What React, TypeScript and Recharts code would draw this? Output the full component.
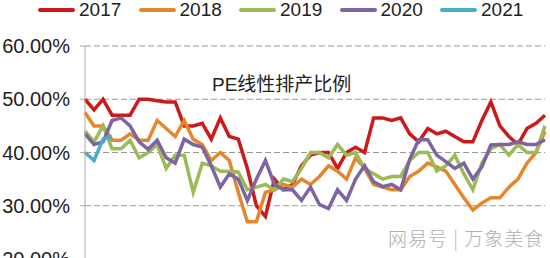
import { LineChart, Line, XAxis, YAxis, CartesianGrid } from "recharts";

const weeks = Array.from({ length: 52 }, (_, i) => i + 1);

const years = ["2017", "2018", "2019", "2020", "2021"];
const colors = ["#CC1A1A", "#E5862B", "#9BBB59", "#7E64A0", "#4BACC6"];

const s2017 = [
  50, 48, 50, 47, 47, 47, 50, 50, 49.7, 49.5, 49.5, 45, 45, 45.5, 42.5, 46.5, 43, 42.5, 37, 30,
  28, 35, 33, 34, 37.5, 39.5, 40, 40, 37, 40, 41, 40, 46.5, 46.5, 46, 46.5, 43.5, 42, 44.5, 43.5,
  44, 43, 42, 42, 46, 49.5, 45, 43, 41.5, 44.5, 45.5, 47,
];
const s2018 = [
  47.5, 45, 45, 42.3, 42.3, 43.5, 42.3, 42.3, 46, 44.5, 43, 46, 42.5, 41.5, 38.5, 40, 38.5, 32.5, 27, 27,
  32.5, 33, 34, 33.5, 35, 34, 35.5, 37.5, 36.5, 35, 39, 37, 34, 33.5, 33, 33, 35.5, 36.5, 38, 37.3,
  36.5, 34, 31.5, 29.2, 30.5, 31.5, 31.5, 33.5, 35, 38, 40, 44,
];
const s2019 = [
  44, 42, 45, 40.7, 40.7, 42.3, 39, 40, 41.5, 37, 39.5, 39.5, 32.5, 38, 37.5, 36.5, 36.5, 36.3, 33, 33.5,
  34, 33, 35, 34.5, 37, 40, 40, 39, 41.5, 39.5, 40, 37, 36, 35, 35.5, 35.5, 38.5, 40, 40, 36.5,
  37.5, 39.5, 36, 33, 38, 40.7, 41.5, 39.5, 41.5, 40, 40, 45,
];
const s2020 = [
  43.5, 41.5, 42, 46, 46.5, 45, 42, 40.6, 42.3, 39, 38, 42.5, 41.5, 41, 37.5, 33.5, 36, 35, 31, 35,
  38.5, 34, 33, 33, 31, 33.5, 30.2, 29.5, 33, 31, 35, 37.5, 34.5, 33.6, 34, 33, 38.7, 42.4, 42.4, 39.5,
  38.3, 37, 38, 35, 37.3, 41.4, 41.5, 41.5, 42, 41.5, 41.5, 42.4,
];
const s2021 = [40, 38.5, 42.5, 43];

const series = [s2017, s2018, s2019, s2020, s2021];

const yTicks = [20, 30, 40, 50, 60];

const data = weeks.map((w, i) => {
  const row: Record<string, number | null> = { week: w };
  years.forEach((y, k) => {
    row[y] = series[k][i] ?? null;
  });
  return row;
});

const font = "'Liberation Sans', Arial, 'Noto Sans CJK SC', sans-serif";

function YearLegend() {
  return (
    <div style={{ position: "absolute", left: 0, top: 0, width: 550, height: 22, fontFamily: font, fontSize: 19, color: "#222" }}>
      {years.map((y, k) => (
        <div
          key={y}
          style={{ position: "absolute", left: 38 + k * 100.5, top: 0, display: "flex", alignItems: "center", height: 20 }}
        >
          <span style={{ display: "inline-block", width: 37, height: 4, borderRadius: 2, background: colors[k], marginRight: 4 }} />
          <span>{y}</span>
        </div>
      ))}
    </div>
  );
}

export default function App() {
  return (
    <div style={{ position: "absolute", left: 0, top: 0, width: 550, height: 280, background: "#fff" }}>
      <LineChart width={550} height={280} data={data} margin={{ top: 46, right: 5, left: 0, bottom: 21 }}>
        <CartesianGrid vertical={false} stroke="#999" strokeDasharray="6 3" />
        <XAxis dataKey="week" hide padding={{ left: 0, right: 0 }} />
        <YAxis
          width={85}
          domain={[20, 60]}
          ticks={yTicks}
          tickFormatter={(v: number) => `${v.toFixed(2)}%`}
          stroke="#aaa"
          tickSize={5}
          tickMargin={10}
          tick={{ fill: "#222", fontSize: 20, fontFamily: font }}
        />
        {years.map((y, k) => (
          <Line
            key={y}
            dataKey={y}
            stroke={colors[k]}
            strokeWidth={3.5}
            dot={false}
            type="linear"
            isAnimationActive={false}
            connectNulls={false}
          />
        ))}
      </LineChart>
      <YearLegend />
      <div style={{ position: "absolute", left: 212, top: 69, fontFamily: font, fontSize: 19, color: "#222" }}>
        PE线性排产比例
      </div>
      <div
        style={{
          position: "absolute",
          left: 388,
          top: 224,
          fontFamily: "'Noto Sans CJK SC', sans-serif",
          fontWeight: 300,
          fontSize: 19,
          color: "#b0b0b0",
          letterSpacing: 1,
        }}
      >
        网易号 | 万象美食
      </div>
    </div>
  );
}
